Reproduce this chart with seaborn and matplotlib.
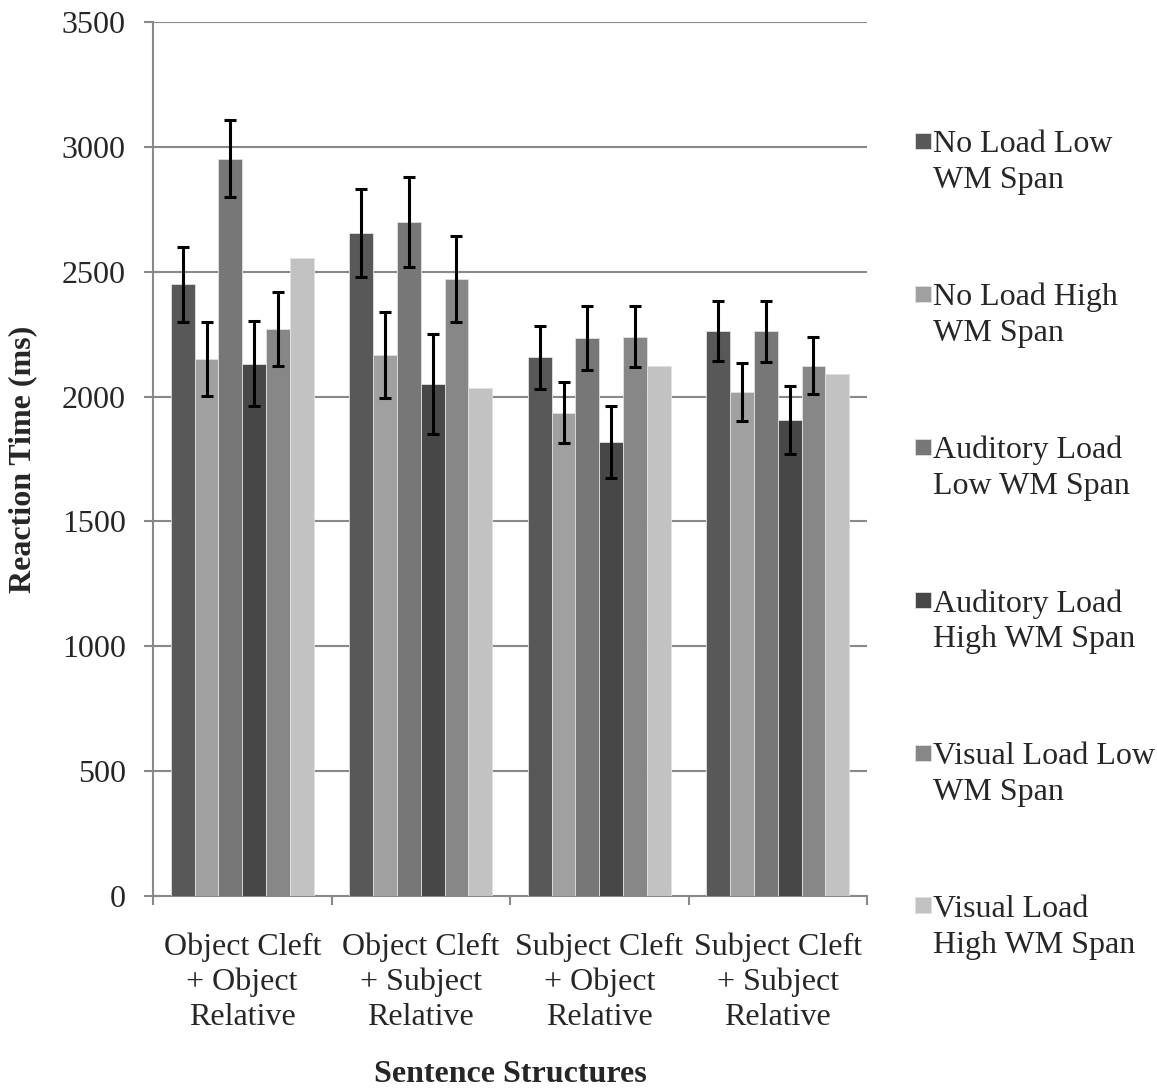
import numpy as np
import pandas as pd
import matplotlib
matplotlib.use("Agg")
import matplotlib.pyplot as plt
from matplotlib.patches import Rectangle
from matplotlib.legend_handler import HandlerPatch
import seaborn as sns

categories = ["Object Cleft\n+ Object\nRelative", "Object Cleft\n+ Subject\nRelative",
              "Subject Cleft\n+ Object\nRelative", "Subject Cleft\n+ Subject\nRelative"]
series = ["No Load Low\nWM Span", "No Load High\nWM Span", "Auditory Load\nLow WM Span",
          "Auditory Load\nHigh WM Span", "Visual Load Low\nWM Span", "Visual Load\nHigh WM Span"]
no_load_low = [2450, 2656, 2157, 2264]
no_load_high = [2152, 2168, 1936, 2020]
aud_low = [2953, 2699, 2233, 2261]
aud_high = [2132, 2052, 1818, 1907]
vis_low = [2272, 2470, 2240, 2124]
vis_high = [2556, 2034, 2121, 2092]
err_no_load_low = [150, 176, 125, 120]
err_no_load_high = [148, 172, 121, 116]
err_aud_low = [155, 179, 128, 121]
err_aud_high = [171, 200, 143, 135]
err_vis_low = [148, 172, 122, 115]
err_vis_high = [np.nan, np.nan, np.nan, np.nan]
colors = ["#585858", "#a0a0a0", "#777777", "#474747", "#878787", "#c2c2c2"]

values = [no_load_low, no_load_high, aud_low, aud_high, vis_low, vis_high]
errors = [err_no_load_low, err_no_load_high, err_aud_low, err_aud_high, err_vis_low, err_vis_high]

rows = []
for s, vals in zip(series, values):
    for c, v in zip(categories, vals):
        rows.append({"cat": c, "series": s, "rt": v})
df = pd.DataFrame(rows)

sns.set_theme(style="white")
plt.rcParams["font.family"] = ["Liberation Serif", "DejaVu Serif"]

fig = plt.figure(figsize=(11.57, 10.88), dpi=100)
ax = fig.add_axes([153/1157, 1-896/1088, (867-153)/1157, (896-22)/1088])

sns.barplot(data=df, x="cat", y="rt", hue="series", order=categories, hue_order=series,
            palette=colors, width=0.8, gap=0, errorbar=None, ax=ax, saturation=1,
            edgecolor="#e0e0e0", linewidth=0.6, zorder=3)

for cont, errs in zip(ax.containers, errors):
    xs = [p.get_x() + p.get_width()/2 for p in cont.patches]
    hs = [p.get_height() for p in cont.patches]
    ax.errorbar(xs, hs, yerr=errs, fmt="none", ecolor="black", elinewidth=2.2,
                capsize=4.5, capthick=2.2, zorder=4)

ax.set_ylim(0, 3500)
ax.set_xlim(-0.5, 3.5)
ax.set_yticks(np.arange(0, 3501, 500))
ax.yaxis.grid(True, color="#898989", linewidth=1.5, zorder=0)
ax.set_axisbelow(True)
for sp in ["top", "right"]:
    ax.spines[sp].set_visible(False)
for sp in ["left", "bottom"]:
    ax.spines[sp].set_color("#898989")
    ax.spines[sp].set_linewidth(1.5)

ax.tick_params(axis="y", which="major", length=6.5, width=1.5, color="#898989",
               labelsize=23, pad=13, left=True)
ax.set_xticks(np.arange(-0.5, 3.6, 1.0), minor=True)
ax.tick_params(axis="x", which="major", length=0, labelsize=23, pad=26)
ax.tick_params(axis="x", which="minor", length=6.5, width=1.5, color="#898989", bottom=True)
for lab in ax.get_xticklabels():
    lab.set_linespacing(1.27)

ax.set_xlabel("Sentence Structures", fontsize=23, fontweight="bold", labelpad=20)
ax.set_ylabel("Reaction Time (ms)", fontsize=23, fontweight="bold", labelpad=18)

LINE_GAP_PT = 25.9
SQ = 11.5


def square_top(legend, orig_handle, xdescent, ydescent, width, height, fontsize):
    return Rectangle((-xdescent, LINE_GAP_PT - 8.0), SQ, SQ)


handles, labels = ax.get_legend_handles_labels()
leg = ax.legend(handles, labels, loc="upper left", bbox_to_anchor=(1.05, 0.891),
                frameon=False, fontsize=23, handlelength=0.5, handleheight=0.45,
                handletextpad=0.06, labelspacing=2.75, borderaxespad=0,
                handler_map={h: HandlerPatch(patch_func=square_top) for h in handles})
for t in leg.get_texts():
    t.set_linespacing(1.31)

fig.savefig("out.png", dpi=100, facecolor="white")
